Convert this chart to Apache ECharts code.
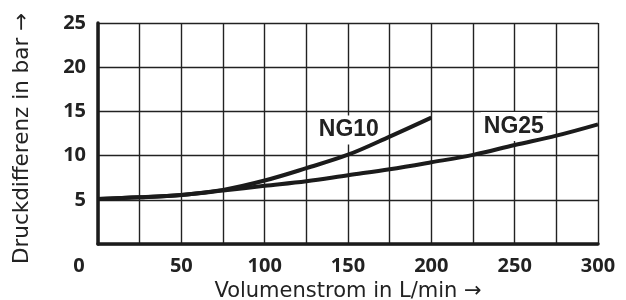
<!DOCTYPE html>
<html><head><meta charset="utf-8">
<script src="https://cdn.jsdelivr.net/npm/echarts@6/dist/echarts.min.js"></script>
<style>html,body{margin:0;padding:0;background:#fff}#c{width:626px;height:300px}</style>
</head><body><div id="c"></div>
<script>
// ---- data ----
const flowNG10 = [0, 25, 50, 75, 100, 125, 150, 175, 200];
const dpNG10   = [5.1, 5.28, 5.55, 6.12, 7.18, 8.58, 10.1, 12.15, 14.3];
const flowNG25 = [0, 25, 50, 75, 100, 125, 150, 175, 200, 225, 250, 275, 300];
const dpNG25   = [5.1, 5.28, 5.55, 6.05, 6.58, 7.1, 7.78, 8.45, 9.24, 10.08, 11.2, 12.26, 13.54];
const seriesNames = ['NG10', 'NG25'];
const xTickLabels = [50, 100, 150, 200, 250, 300];
const yTickLabels = [5, 10, 15, 20, 25];
const originLabel = '0';
const xTitle = 'Volumenstrom in L/min \u2192';
const yTitle = 'Druckdifferenz in bar \u2192';
const labelAnchors = [[150.5, 12.9], [249.5, 13.3]];

// ---- chart ----
const chart = echarts.init(document.getElementById('c'), null, {renderer: 'canvas'});
const ink = '#1b1b1b';
const tickFont = {fontFamily: '"Open Sans", sans-serif', fontWeight: 700, fontSize: 20, color: '#222'};

function pairs(xs, ys) { return xs.map((x, i) => [x, ys[i]]); }

function seriesFor(name, xs, ys, anchor) {
  return {
    name: name, type: 'line', data: pairs(xs, ys), smooth: 0.35,
    showSymbol: false, symbol: 'none', z: 3,
    lineStyle: {color: ink, width: 4},
    markPoint: {
      z: 1, symbol: 'circle', symbolSize: 0, silent: true,
      data: [{coord: anchor, name: name}],
      label: {
        show: true, position: 'inside', formatter: name,
        fontFamily: '"Liberation Sans", Arial, sans-serif', fontWeight: 'bold', fontSize: 23,
        lineHeight: 20,
        color: '#222', backgroundColor: '#fff', padding: [1, 3, 8, 3]
      }
    }
  };
}

chart.setOption({
  animation: false,
  backgroundColor: '#fff',
  grid: {left: 98, right: 28, top: 23, bottom: 56, containLabel: false, outerBoundsMode: 'none'},
  xAxis: {
    type: 'value', min: 0, max: 300, interval: 25,
    name: xTitle, nameLocation: 'middle', nameGap: 34,
    nameTextStyle: {fontFamily: '"DejaVu Sans", sans-serif', fontSize: 21, color: '#222'},
    axisLine: {show: true, lineStyle: {color: ink, width: 3.5}},
    axisTick: {show: false},
    axisLabel: {
      margin: 12, ...tickFont,
      formatter: v => xTickLabels.includes(v) ? String(v) : ''
    },
    splitLine: {show: true, lineStyle: {color: '#222', width: 1.4}}
  },
  yAxis: {
    type: 'value', min: 0, max: 25, interval: 5,
    name: yTitle, nameLocation: 'middle', nameGap: 65, nameRotate: 90,
    nameTextStyle: {fontFamily: '"DejaVu Sans", sans-serif', fontSize: 21.5, color: '#222', padding: [0, 10, 0, 0]},
    axisLine: {show: true, onZero: false, lineStyle: {color: ink, width: 3.5}},
    axisTick: {show: false},
    axisLabel: {
      margin: 12, ...tickFont,
      formatter: v => yTickLabels.includes(v) ? String(v) : ''
    },
    splitLine: {show: true, lineStyle: {color: '#222', width: 1.4}}
  },
  series: [
    seriesFor(seriesNames[0], flowNG10, dpNG10, labelAnchors[0]),
    seriesFor(seriesNames[1], flowNG25, dpNG25, labelAnchors[1])
  ]
});

// shared origin label placed from the library's own scale
const origin = chart.convertToPixel({gridIndex: 0}, [0, 0]);
chart.setOption({
  graphic: [{
    type: 'text', x: origin[0] - 19, y: origin[1] + 22,
    style: {text: originLabel, textAlign: 'center', textVerticalAlign: 'middle',
            font: '700 20px "Open Sans", sans-serif', fill: '#222'}
  }]
});
</script>
</body></html>
